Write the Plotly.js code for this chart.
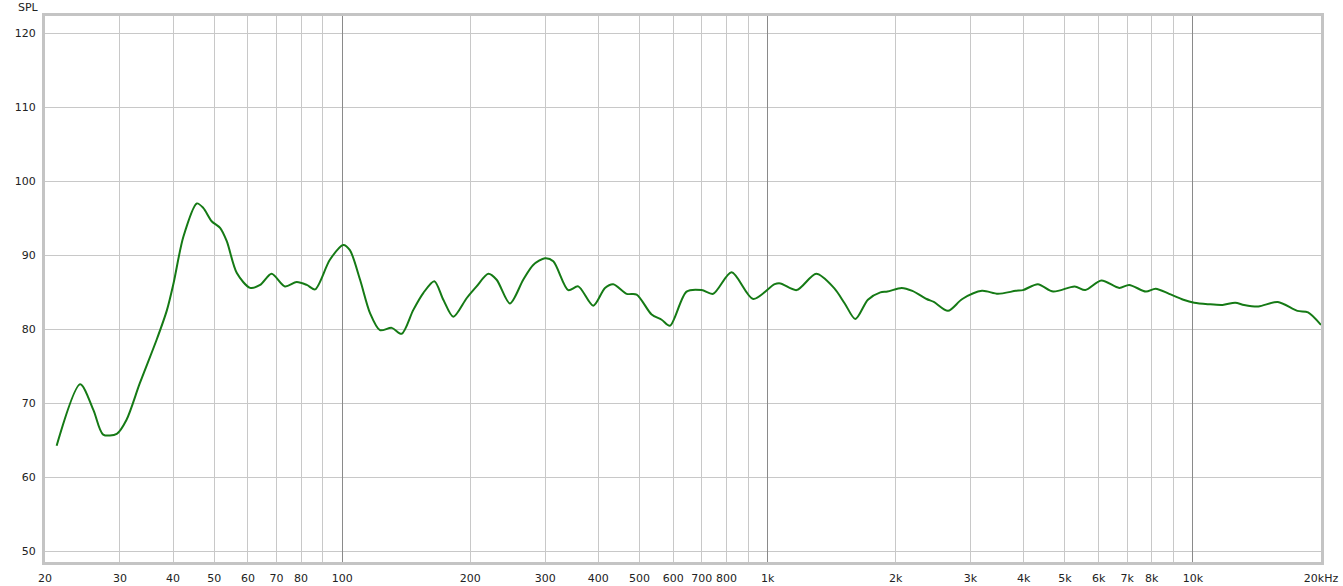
<!DOCTYPE html>
<html>
<head>
<meta charset="utf-8">
<script src="https://cdn.plot.ly/plotly-3.0.1.min.js"></script>
<style>html,body{margin:0;padding:0;background:#fff;}#chart{width:1343px;height:586px;}</style>
</head>
<body>
<div id="chart"></div>
<script>
// Frequency (Hz) and SPL (dB)
const freqHz = [21.3,24.2,26.0,27.4,29.5,31.1,33.4,36.6,38.7,40.1,42.3,45.5,47.1,49.3,51.6,53.5,56.5,60.7,64.1,68.2,73.3,78.1,82.5,86.3,93.5,100.5,104.2,110.1,116.2,122.6,130.7,137.9,146.8,155.0,164.6,172.8,182.4,196.0,206.9,220.4,230.6,247.8,266.3,281.1,299.6,313.4,339.8,358.7,389.0,414.6,433.6,466.2,492.1,533.7,563.4,589.2,644.8,699.4,744.7,822.6,924.6,1039,1072,1170,1301,1432,1518,1608,1721,1841,1913,2066,2189,2365,2459,2655,2869,3191,3480,3834,3984,4319,4693,5270,5583,6090,6709,7080,7750,8170,8790,9495,10070,10870,11740,12570,13190,14250,15830,17600,18650,20000];
const splDb = [64.3,72.6,69.1,65.8,65.9,67.8,72.7,78.6,82.6,86.2,92.5,97.0,96.4,94.6,93.7,91.9,87.6,85.6,86.0,87.5,85.8,86.4,86.0,85.4,89.4,91.4,90.7,86.7,82.2,79.9,80.2,79.4,82.6,84.9,86.5,84.0,81.7,84.2,85.8,87.5,86.7,83.5,86.7,88.7,89.6,89.2,85.3,85.8,83.2,85.6,86.1,84.8,84.7,82.0,81.3,80.5,85.1,85.3,84.8,87.7,84.1,86.1,86.2,85.3,87.5,85.6,83.5,81.4,84.0,85.0,85.1,85.6,85.2,84.1,83.7,82.5,84.1,85.2,84.8,85.2,85.3,86.1,85.1,85.8,85.3,86.6,85.6,86.0,85.1,85.5,84.8,84.0,83.6,83.4,83.3,83.6,83.3,83.1,83.7,82.5,82.3,80.6];

const xTickVals = [20,30,40,50,60,70,80,90,100,200,300,400,500,600,700,800,900,1000,2000,3000,4000,5000,6000,7000,8000,9000,10000,20000];
const xTickText = ['20','30','40','50','60','70','80','','100','200','300','400','500','600','700','800','','1k','2k','3k','4k','5k','6k','7k','8k','','10k','20kHz'];
const decadeVals = [100,1000,10000];
const yTickVals = [50,60,70,80,90,100,110,120];

const tickFont = {family:'DejaVu Sans, Verdana, sans-serif', size:11, color:'#222'};
const xr = [Math.log10(20), Math.log10(20000)];

const traces = [
  {x:freqHz, y:splDb, xaxis:'x', yaxis:'y', mode:'lines', line:{color:'rgba(0,0,0,0)', width:0}, hoverinfo:'skip', showlegend:false},
  {x:freqHz, y:splDb, xaxis:'x2', yaxis:'y', mode:'lines', line:{color:'#157a15', width:2, shape:'spline', smoothing:0.8}, showlegend:false}
];

const layout = {
  width:1343, height:586,
  margin:{l:45, r:22, t:16, b:24},
  paper_bgcolor:'#fff', plot_bgcolor:'#fff',
  showlegend:false,
  xaxis:{type:'log', range:xr, tickvals:xTickVals, ticktext:xTickText, showgrid:true, gridcolor:'#c8c8c8', gridwidth:1,
         zeroline:false, showline:true, mirror:true, linecolor:'#c4c4c4', linewidth:3, ticks:'', tickfont:tickFont, ticklabelstandoff:4, fixedrange:true},
  xaxis2:{type:'log', range:xr, overlaying:'x', tickvals:decadeVals, showticklabels:false, showgrid:true, gridcolor:'#8a8a8a', gridwidth:1,
          zeroline:false, showline:false, ticks:'', fixedrange:true},
  yaxis:{range:[48.6,122.3], tickvals:yTickVals, showgrid:true, gridcolor:'#c8c8c8', gridwidth:1, zeroline:false,
         showline:true, mirror:true, linecolor:'#c4c4c4', linewidth:3, ticks:'', tickfont:tickFont, ticklabelstandoff:4, fixedrange:true},
  annotations:[{text:'SPL', xref:'paper', yref:'paper', x:0, y:1, xanchor:'right', yanchor:'bottom', xshift:-4, yshift:0, showarrow:false, font:tickFont}]
};

Plotly.newPlot('chart', traces, layout, {staticPlot:true, displayModeBar:false});
</script>
</body>
</html>
